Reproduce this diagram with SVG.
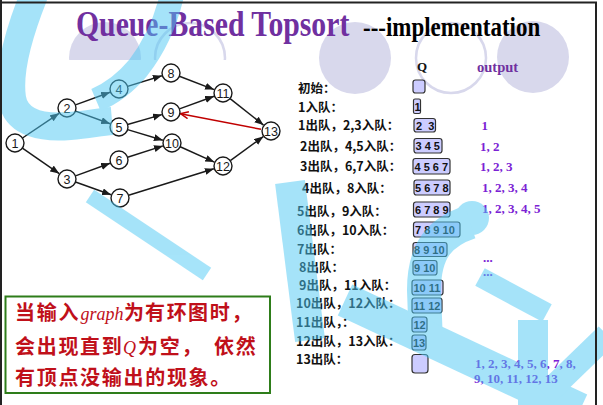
<svg xmlns="http://www.w3.org/2000/svg" width="603" height="405" viewBox="0 0 603 405">
  <defs>
    <style>
      .title { font-family: "Liberation Serif", "Times New Roman", serif; font-weight: bold; }
      .node circle { fill: #fff; stroke: #1a1a1a; stroke-width: 1.4; }
      .node text { font-family: "Liberation Sans", Arial, sans-serif; font-size: 12.5px; text-anchor: middle; fill: #1a1a1a; }
      .edge { stroke: #1a1a1a; stroke-width: 1.5; fill: none; marker-end: url(#arrow); }
      .back { stroke: #c00000; stroke-width: 1.5; fill: none; marker-end: url(#arrowOpen); }
      .lbl { font-family: "Noto Sans CJK SC", "Noto Sans", sans-serif; font-weight: bold; font-size: 12.5px; fill: #111; }
      .qbox { fill: #ccccff; stroke: #333; stroke-width: 1.2; }
      .qtxt { font-family: "Liberation Sans", Arial, sans-serif; font-weight: bold; font-size: 11px; fill: #111; }
      .out { font-family: "Liberation Serif", "Times New Roman", serif; font-weight: bold; font-size: 13px; fill: #7b22d4; }
      .deco { fill: #d8d8ec; }
      .decoRing { fill: none; stroke: #d8d8ec; stroke-width: 2.5; }
      .wm { fill: none; stroke: #4dc9f5; stroke-linecap: butt; }
      .note { font-family: "Noto Sans CJK SC", sans-serif; font-weight: bold; font-size: 20px; fill: #c0101a; letter-spacing: 1.7px; }
      .noteLatin { font-family: "Liberation Serif", "Times New Roman", serif; font-style: italic; font-size: 18px; fill: #c0101a; }
    </style>
    <marker id="arrow" markerUnits="userSpaceOnUse" markerWidth="10" markerHeight="8" refX="9" refY="3.5" orient="auto">
      <path d="M0,0 L9,3.5 L0,7 z" fill="#1a1a1a"/>
    </marker>
    <marker id="arrowOpen" markerUnits="userSpaceOnUse" markerWidth="10" markerHeight="10" refX="9" refY="4" orient="auto">
      <path d="M1,0.5 L9,4 L1,7.5" fill="none" stroke="#c00000" stroke-width="1.4"/>
    </marker>
  </defs>

  <rect width="603" height="405" fill="#fff"/>

  <!-- slide decoration: lavender discs and rings -->
  <g id="decoration">
    <circle class="deco" cx="105" cy="58" r="36"/>
    <circle class="decoRing" cx="190" cy="58" r="35"/>
    <circle class="deco" cx="355" cy="58" r="36"/>
    <circle class="decoRing" cx="451" cy="58" r="35"/>
    <circle class="deco" cx="533" cy="57" r="36"/>
  </g>

  <!-- title (condensed horizontally) -->
  <g id="title">
    <text class="title" transform="translate(76,35.5) scale(0.826,1)" font-size="36" fill="#7030a0">Queue-Based Topsort</text>
    <text class="title" transform="translate(363,35.5) scale(0.82,1)" font-size="28" fill="#000">---implementation</text>
  </g>

  <!-- graph panel background -->
  <rect x="3" y="60" width="292" height="152" fill="#fff"/>

  <!-- connectors -->
  <g id="connectors">
    <line class="edge" x1="22.5" y1="138" x2="59.1" y2="113.3"/>
    <line class="edge" x1="22.4" y1="148.1" x2="59.2" y2="173.6"/>
    <line class="edge" x1="75.5" y1="104.9" x2="110.1" y2="92.3"/>
    <line class="edge" x1="75.5" y1="111.1" x2="110.1" y2="123.7"/>
    <line class="edge" x1="75.5" y1="175.9" x2="110.1" y2="163.3"/>
    <line class="edge" x1="75.5" y1="182" x2="111.1" y2="194.8"/>
    <line class="edge" x1="127.6" y1="86.4" x2="161.9" y2="75.8"/>
    <line class="edge" x1="127.6" y1="124.5" x2="161.9" y2="114.6"/>
    <line class="edge" x1="127.6" y1="129.6" x2="162.9" y2="140.3"/>
    <line class="edge" x1="127.6" y1="157.3" x2="163" y2="145.9"/>
    <line class="edge" x1="128.6" y1="195.3" x2="213.9" y2="168.8"/>
    <line class="edge" x1="179.4" y1="76.2" x2="214.1" y2="89.6"/>
    <line class="edge" x1="179.5" y1="108.9" x2="214.1" y2="96.3"/>
    <line class="edge" x1="180.2" y1="146.7" x2="214.3" y2="162.1"/>
    <line class="edge" x1="230.1" y1="98.6" x2="263.5" y2="125.1"/>
    <line class="edge" x1="230.3" y1="160.7" x2="263.3" y2="136.6"/>
    <line class="back" x1="261" y1="129.3" x2="180.4" y2="113.7"/>
  </g>

  <!-- graph nodes -->
  <g id="n1" class="node"><circle cx="15" cy="143" r="9"/><text x="15" y="147.5">1</text></g>
  <g id="n2" class="node"><circle cx="67" cy="108" r="9"/><text x="67" y="112.5">2</text></g>
  <g id="n3" class="node"><circle cx="67" cy="179" r="9"/><text x="67" y="183.5">3</text></g>
  <g id="n4" class="node"><circle cx="119" cy="89" r="9"/><text x="119" y="93.5">4</text></g>
  <g id="n5" class="node"><circle cx="119" cy="127" r="9"/><text x="119" y="131.5">5</text></g>
  <g id="n6" class="node"><circle cx="119" cy="160" r="9"/><text x="119" y="164.5">6</text></g>
  <g id="n7" class="node"><circle cx="120" cy="198" r="9"/><text x="120" y="202.5">7</text></g>
  <g id="n8" class="node"><circle cx="171" cy="73" r="9"/><text x="171" y="77.5">8</text></g>
  <g id="n9" class="node"><circle cx="171" cy="112" r="9"/><text x="171" y="116.5">9</text></g>
  <g id="n10" class="node"><circle cx="172" cy="143" r="9"/><text x="172" y="147.5">10</text></g>
  <g id="n11" class="node"><circle cx="223" cy="93" r="9"/><text x="223" y="97.5">11</text></g>
  <g id="n12" class="node"><circle cx="223" cy="166" r="9"/><text x="223" y="170.5">12</text></g>
  <g id="n13" class="node"><circle cx="271" cy="131" r="9"/><text x="271" y="135.5">13</text></g>

  <!-- queue trace: column headings -->
  <g id="headings">
    <text class="title" x="417" y="71" font-size="13" fill="#111">Q</text>
    <text class="title" x="477" y="72" font-size="14.5" fill="#7030a0">output</text>
  </g>

  <!-- queue trace: step labels -->
  <g id="steps">
    <text class="lbl" x="298" y="92.7">初始：</text>
    <text class="lbl" x="298" y="111.7">1入队：</text>
    <text class="lbl" x="298" y="129.7">1出队，2,3入队：</text>
    <text class="lbl" x="300" y="150.7">2出队，4,5入队：</text>
    <text class="lbl" x="300" y="170.7">3出队，6,7入队：</text>
    <text class="lbl" x="302" y="192.7">4出队，8入队：</text>
    <text class="lbl" x="297" y="215.7">5出队，9入队：</text>
    <text class="lbl" x="297" y="234.7">6出队，10入队：</text>
    <text class="lbl" x="297" y="253.7">7出队：</text>
    <text class="lbl" x="299" y="272">8出队：</text>
    <text class="lbl" x="299" y="290">9出队，11入队：</text>
    <text class="lbl" x="296" y="308">10出队，12入队：</text>
    <text class="lbl" x="296" y="326.7">11出队，：</text>
    <text class="lbl" x="296" y="345.5">12出队，13入队：</text>
    <text class="lbl" x="296" y="364">13出队：</text>
  </g>

  <!-- queue trace: queue contents -->
  <g id="queues">
    <rect class="qbox" x="413" y="80" width="12" height="13" rx="2.5"/>
    <rect class="qbox" x="413.5" y="99" width="7" height="14.5" rx="1.5"/>
    <text class="qtxt" x="414.5" y="110.5">1</text>
    <rect class="qbox" x="414" y="118.5" width="21.5" height="13.5" rx="2.5"/>
    <text class="qtxt" x="416" y="129.5" xml:space="preserve">2  3</text>
    <rect class="qbox" x="414" y="138.5" width="28" height="14.5" rx="2.5"/>
    <text class="qtxt" x="415.5" y="150">3 4 5</text>
    <rect class="qbox" x="413" y="158.5" width="37" height="15.5" rx="2.5"/>
    <text class="qtxt" x="414.5" y="170.5">4 5 6 7</text>
    <rect class="qbox" x="414" y="180" width="36" height="15" rx="2.5"/>
    <text class="qtxt" x="415" y="191.7">5 6 7 8</text>
    <rect class="qbox" x="413.5" y="202" width="36.5" height="15" rx="2.5"/>
    <text class="qtxt" x="415" y="213.7">6 7 8 9</text>
    <rect class="qbox" x="413.5" y="222" width="46.5" height="15" rx="2.5"/>
    <text class="qtxt" x="415" y="233.7">7 8 9 10</text>
    <rect class="qbox" x="413" y="242.5" width="34" height="14" rx="2.5"/>
    <text class="qtxt" x="414" y="253.7">8 9 10</text>
    <rect class="qbox" x="413" y="260.5" width="24" height="14.5" rx="2.5"/>
    <text class="qtxt" x="414" y="272">9 10</text>
    <rect class="qbox" x="412" y="280" width="31" height="15" rx="2.5"/>
    <text class="qtxt" x="413.5" y="291.7">10 11</text>
    <rect class="qbox" x="412" y="298" width="30" height="15" rx="2.5"/>
    <text class="qtxt" x="413.5" y="309.7">11 12</text>
    <rect class="qbox" x="412" y="317" width="15" height="15" rx="2.5"/>
    <text class="qtxt" x="413.5" y="328.7">12</text>
    <rect class="qbox" x="412" y="335" width="14" height="15" rx="2.5"/>
    <text class="qtxt" x="413" y="346.7">13</text>
    <rect class="qbox" x="412" y="354.5" width="16" height="18.5" rx="3"/>
  </g>

  <!-- queue trace: output sequence -->
  <g id="outputs">
    <text class="out" x="481.5" y="130">1</text>
    <text class="out" x="480" y="150.5">1, 2</text>
    <text class="out" x="480" y="171">1, 2, 3</text>
    <text class="out" x="482" y="192">1, 2, 3, 4</text>
    <text class="out" x="482" y="212.5">1, 2, 3, 4, 5</text>
    <text class="out" x="483" y="262" fill="#9b30c8">...</text>
    <text class="out" x="483" y="276" fill="#9b30c8">...</text>
    <text class="out" x="475" y="368">1, 2, 3, 4, 5, 6, 7, 8,</text>
    <text class="out" x="474" y="383">9, 10, 11, 12, 13</text>
  </g>

  <!-- translucent watermark strokes laid over the slide -->
  <g id="watermark" opacity="0.5">
    <path class="wm" stroke-width="28" d="M 34,-5 C 20,30 8,70 12,98 C 16,125 45,128 70,126 C 90,124 100,122 112,121"/>
    <path class="wm" stroke-width="24" d="M 172,-5 C 165,25 152,50 138,68 C 128,80 115,92 96,100"/>
    <path class="wm" stroke-width="15" d="M 90,196 L 207,274"/>
    <circle cx="472" cy="218" r="17" fill="#4dc9f5"/>
    <path class="wm" stroke-width="34" d="M 470,222 C 440,232 424,250 424,290 L 426,345"/>
    <path class="wm" stroke-width="34" d="M 345,300 L 580,410"/>
    <path class="wm" stroke-width="20" d="M 480,277 L 547,313"/>
    <path class="wm" stroke-width="30" d="M 533,320 L 533,410"/>
    <path class="wm" stroke-width="24" d="M 545,395 L 607,335"/>
    <path class="wm" stroke-width="30" d="M 290,182 L 310,340"/>
  </g>

  <!-- note box -->
  <g id="note">
    <rect x="5.5" y="296.5" width="264.5" height="96.5" fill="#fff" stroke="#2e7d1a" stroke-width="2"/>
    <text class="note" x="15" y="320">当输入</text>
    <text class="noteLatin" x="80.5" y="320">graph</text>
    <text class="note" x="124" y="320">为</text>
    <text class="note" x="145" y="320" fill="#7010e0">有环</text>
    <text class="note" x="188" y="320">图时，</text>
    <text class="note" x="15" y="354">会出现直到</text>
    <text class="noteLatin" x="123" y="354">Q</text>
    <text class="note" x="138" y="354">为空，</text>
    <text class="note" x="214" y="354">依然</text>
    <text class="note" x="15" y="385">有顶点没输出的现象。</text>
  </g>

  <!-- slide frame -->
  <g id="frame" stroke="#222" stroke-width="2" fill="none">
    <line x1="0" y1="2.5" x2="597" y2="2.5"/>
    <line x1="1" y1="0" x2="1" y2="405"/>
    <line x1="596" y1="2" x2="596" y2="405"/>
  </g>
</svg>
